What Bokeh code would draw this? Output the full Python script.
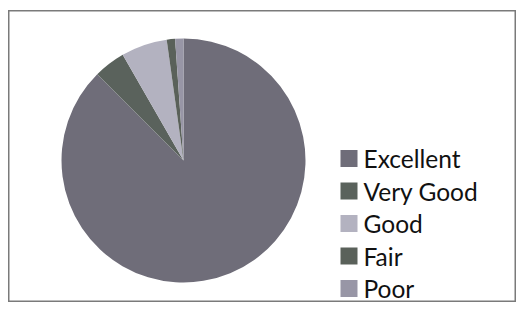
import numpy as np
from bokeh.plotting import figure
from bokeh.models import ColumnDataSource
from bokeh.core.properties import value
from bokeh.embed import file_html
from bokeh.resources import INLINE

categories = ["Excellent", "Very Good", "Good", "Fair", "Poor"]
shares = [87.5, 4.2, 6.1, 1.1, 1.1]
colors = ["#6f6d79", "#5a625c", "#b3b2c0", "#5a615a", "#9896a6"]

W, H = 508, 292
p = figure(width=W, height=H, x_range=(0, W), y_range=(0, H),
           output_backend="svg", toolbar_location=None,
           min_border=0, background_fill_color="white",
           margin=(10, 0, 0, 8))
p.axis.visible = False
p.grid.visible = False
p.outline_line_color = "#7a7a7a"
p.outline_line_width = 2

vals = np.array(shares) / sum(shares)
cum = np.concatenate([[0], np.cumsum(vals)])
start = np.pi / 2 - 2 * np.pi * cum[:-1]
end = np.pi / 2 - 2 * np.pi * cum[1:]
src = ColumnDataSource(dict(cat=categories, start=start, end=end, color=colors))

p.wedge(x=175, y=142, radius=122, start_angle="start", end_angle="end",
        direction="clock", fill_color="color", line_color=None, source=src)

# legend drawn as squares + text
pitch = 32.5
top = H - 148
ly = [top - i * pitch for i in range(len(categories))]
lsrc = ColumnDataSource(dict(cat=categories, y=ly, color=colors,
                             x=[340.5] * len(categories), tx=[355] * len(categories)))
p.scatter(x="x", y="y", marker="square", size=17, fill_color="color",
          line_color=None, source=lsrc)
p.text(x="tx", y="y", text="cat", text_baseline="middle", text_align="left",
       text_font=value("Lato"), text_font_size="24.5px", text_color="#111111",
       source=lsrc)

open("out.html", "w").write(file_html(p, INLINE))
